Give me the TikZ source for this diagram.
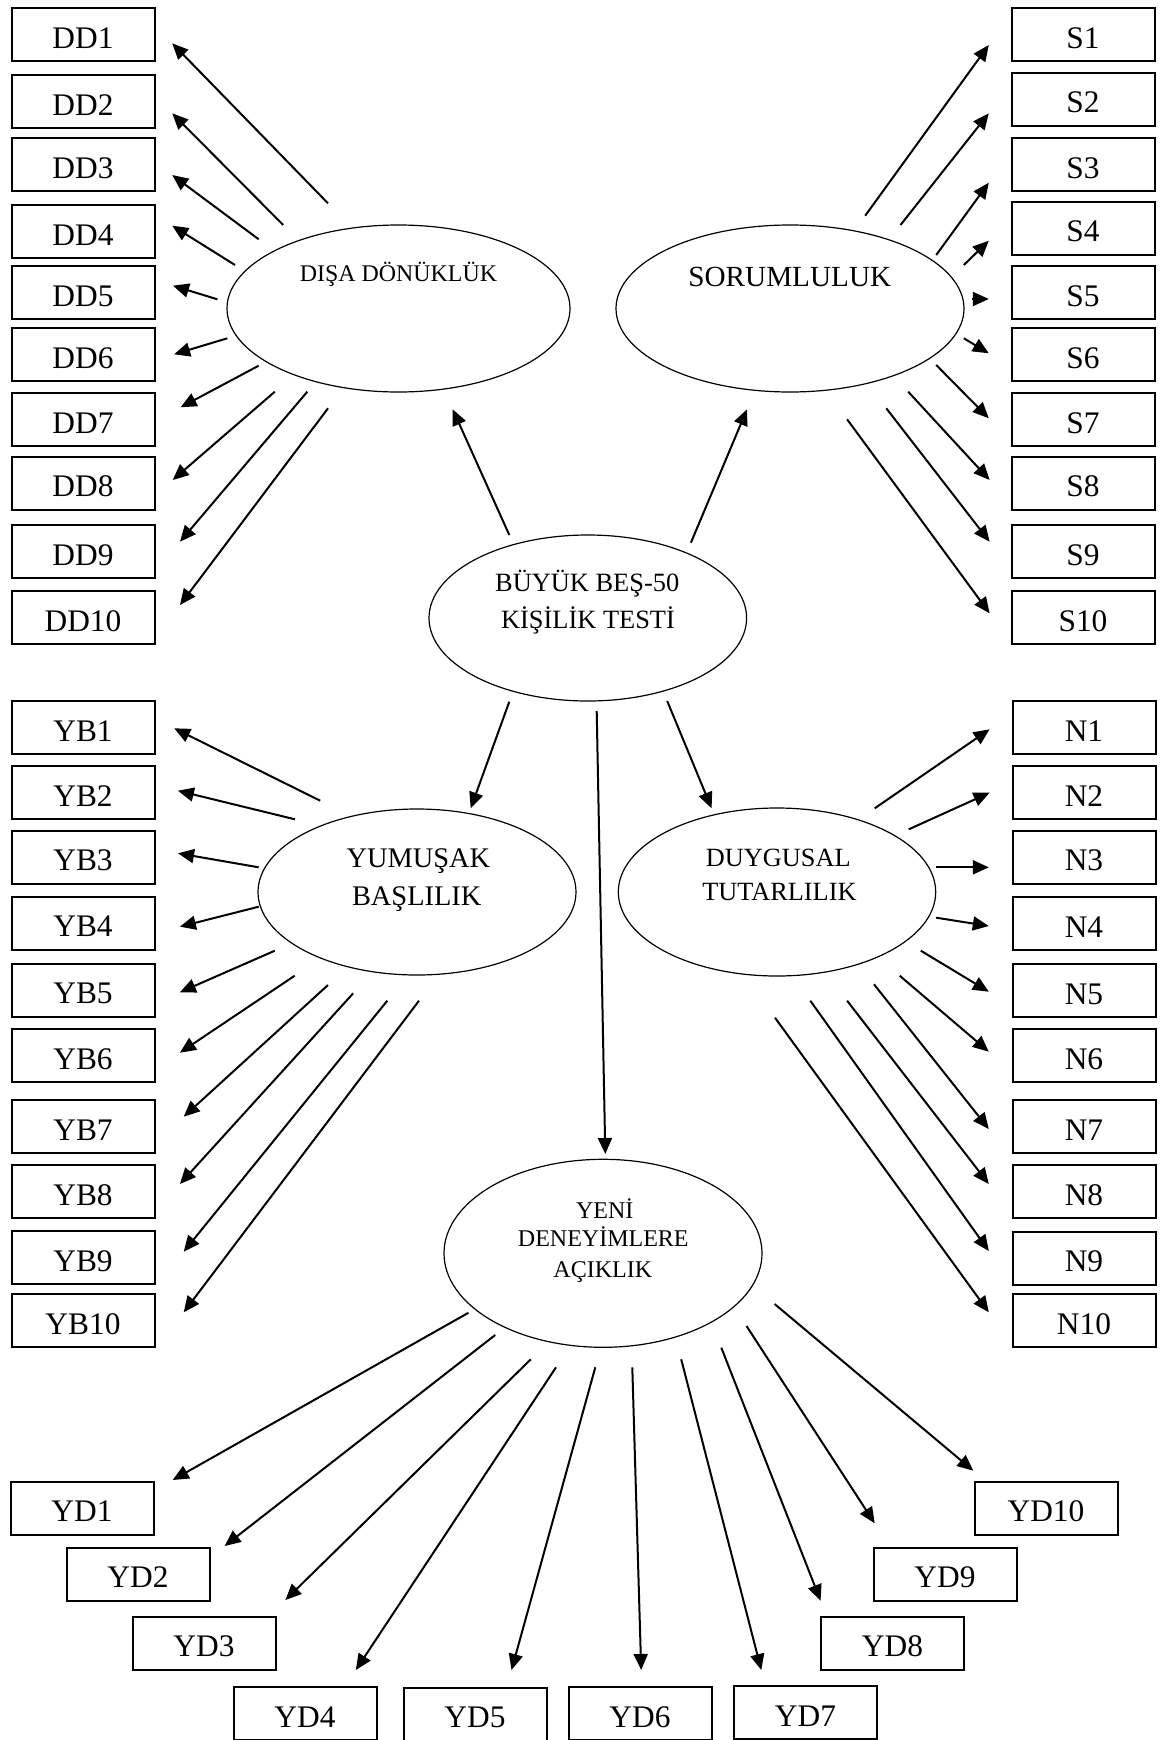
\documentclass[tikz,border=0pt]{standalone}
\usepackage{fontspec}
\setmainfont{Liberation Serif}
\usetikzlibrary{arrows.meta,shapes.geometric}
\begin{document}
\begin{tikzpicture}[x=0.5pt,y=-0.5pt,
  box/.style={draw, line width=1pt, minimum width=71.5pt, minimum height=26.5pt,
    inner sep=0pt, outer sep=0pt, font=\fontsize{15.7}{18}\selectfont,
    text height=13.8pt, text depth=0pt},
  latent/.style={draw, ellipse, line width=0.6pt, inner sep=0pt, outer sep=0pt},
  lbl/.style={anchor=base, inner sep=0pt},
  arr/.style={line width=1pt, -{Triangle[length=8pt,width=7pt]}}]
\useasboundingbox (0,0) rectangle (1162,1740);
\clip (0,0) rectangle (1162,1740);

% latent ellipses
\node[latent, minimum width=171.5pt, minimum height=83.5pt] (DDe) at (398.5,308.5) {};
\node[latent, minimum width=174pt, minimum height=83.5pt] (Se) at (790,308.5) {};
\node[latent, minimum width=158.8pt, minimum height=83pt] (Ce) at (587.8,618) {};
\node[latent, minimum width=159pt, minimum height=83pt] (YBe) at (417,892) {};
\node[latent, minimum width=158.7pt, minimum height=84pt] (Ne) at (777,892) {};
\node[latent, minimum width=159pt, minimum height=94pt] (YDe) at (603,1253.3) {};

% ellipse texts
\node[lbl, font=\fontsize{11.95}{14}\selectfont] (ddtx) at (398.5,281) {DIŞA DÖNÜKLÜK};
\node[lbl, font=\fontsize{14.6}{17}\selectfont] (sotx) at (789.8,286) {SORUMLULUK};
\node[lbl, font=\fontsize{13.2}{16}\selectfont] (ctx1) at (587.2,591.7) {BÜYÜK BEŞ-50};
\node[lbl, font=\fontsize{13.2}{16}\selectfont] (ctx2) at (588,628.3) {KİŞİLİK TESTİ};
\node[lbl, font=\fontsize{14.2}{17}\selectfont] (ybtx1) at (418.3,867.3) {YUMUŞAK};
\node[lbl, font=\fontsize{14.2}{17}\selectfont] (ybtx2) at (416.7,905) {BAŞLILIK};
\node[lbl, font=\fontsize{13.15}{16}\selectfont] (ntx1) at (778.3,866) {DUYGUSAL};
\node[lbl, font=\fontsize{13.15}{16}\selectfont] (ntx2) at (779.4,900) {TUTARLILIK};
\node[lbl, font=\fontsize{12}{14}\selectfont] (ydtx1) at (604.7,1218.3) {YENİ};
\node[lbl, font=\fontsize{12}{14}\selectfont] (ydtx2) at (603.3,1246.7) {DENEYİMLERE};
\node[lbl, font=\fontsize{12}{14}\selectfont] (ydtx3) at (602.8,1277) {AÇIKLIK};

% boxes
\foreach \i/\yy in {1/34.5,2/101.5,3/164.5,4/231.5,5/292.5,6/354.5,7/419.5,8/483,9/551.5,10/617.5}
  \node[box] (DD\i) at (83,\yy) {DD\i};
\foreach \i/\yy in {1/34.5,2/99,3/164.5,4/228,5/292.5,6/354.5,7/419.5,8/483,9/551.5,10/617.5}
  \node[box] (S\i) at (1083,\yy) {S\i};
\foreach \i/\yy in {1/727.5,2/792.5,3/857,4/923,5/990,6/1055.5,7/1126.5,8/1191.5,9/1257.5,10/1320.5}
  \node[box] (YB\i) at (83,\yy) {YB\i};
\foreach \i/\yy in {1/727.5,2/792.5,3/857,4/923.5,5/990.5,6/1055.5,7/1126.5,8/1191.5,9/1258,10/1320.5}
  \node[box] (N\i) at (1084,\yy) {N\i};
\foreach \i/\xx/\yy in {1/82/1508,2/138/1574,3/204/1643,4/305/1713.5,5/475/1714,6/640/1713.5,7/805.5/1712.5,8/892.5/1643,9/945/1574,10/1046/1508}
  \node[box] (YD\i) at (\xx,\yy) {YD\i};

% arrows: central
\foreach \n/\a/\b/\c/\d in {DD/509.3/535/452.7/409.3, S/690.9/542.7/747/409.3,
    YB/509.3/701.7/470.7/808.3, N/667.2/701/711.6/808.3, YD/596.7/711/605.3/1154}{
  \coordinate (ct\n) at (\a,\b); \coordinate (ch\n) at (\c,\d);
  \draw[arr] (ct\n) -- (ch\n);
}
% arrows: DD
\foreach \i/\a/\b/\c/\d in {1/328/203.3/172.2/43.3, 2/283.2/225/172.2/113.3,
    3/258.7/239.3/172.2/175, 4/235/265/172.2/225.7, 5/217.4/299.3/173/285.7,
    6/227.3/338.3/174.1/354.3, 7/258.7/365.7/180.6/407.3, 8/274.8/391.7/172.7/480,
    9/307.3/391.7/180/541.7, 10/328/408.3/180/605}{
  \coordinate (ddtail\i) at (\a,\b); \coordinate (ddhead\i) at (\c,\d);
  \draw[arr] (ddtail\i) -- (ddhead\i);
}
% arrows: S
\foreach \i/\a/\b/\c/\d in {1/865.2/215.7/988.8/45, 2/900.5/225/988.8/113.3,
    3/936.2/255/988.8/182.7, 4/963.8/265/988.8/240.7, 5/972/299/988.8/299,
    6/963.8/338.3/988.8/353.3, 7/936.2/365/988.8/418.3, 8/908.2/391.7/989.6/480,
    9/886.3/408.3/989.6/541.7, 10/847.1/419.3/989.6/613.3}{
  \coordinate (stail\i) at (\a,\b); \coordinate (shead\i) at (\c,\d);
  \draw[arr] (stail\i) -- (shead\i);
}
% arrows: YB
\foreach \i/\a/\b/\c/\d in {1/320.2/800.7/174.2/728.3, 2/295/819.3/177.9/790.7,
    3/258.7/867.3/178/853.3, 4/258.7/906.7/179.9/926.7, 5/274.8/950.7/179.9/992.3,
    6/294.7/975.7/179.9/1052.7, 7/328/985/183.7/1116.7, 8/353.2/993.3/179.9/1184,
    9/387.3/1000.7/183.7/1251.7, 10/419/1000.7/183.7/1312.3}{
  \coordinate (ybtail\i) at (\a,\b); \coordinate (ybhead\i) at (\c,\d);
  \draw[arr] (ybtail\i) -- (ybhead\i);
}
% arrows: N
\foreach \i/\a/\b/\c/\d in {1/874.7/808.3/989.6/729.3, 2/908.8/829.3/989.6/792.7,
    3/936.2/867.3/988.8/867.3, 4/936.2/917.7/988.8/926, 5/920.8/950.7/988.8/991.7,
    6/899.7/975.7/988.8/1051.7, 7/874/984.3/988.8/1129, 8/847.1/1000.7/988.8/1184,
    9/810.3/1000.7/988.8/1251, 10/775/1017.7/988.8/1312.3}{
  \coordinate (ntail\i) at (\a,\b); \coordinate (nhead\i) at (\c,\d);
  \draw[arr] (ntail\i) -- (nhead\i);
}
% arrows: YD
\foreach \i/\a/\b/\c/\d in {1/468.5/1312.7/172.7/1480, 2/495.2/1335/224.6/1546,
    3/530.8/1359.3/285.4/1600, 4/556/1367.3/355.8/1670, 5/595.3/1367.3/511.5/1670,
    6/632.3/1367.3/641.2/1670, 7/681.2/1359.3/761.3/1670, 8/721.3/1347.7/820.6/1600.7,
    9/746.5/1326/874.7/1523.3, 10/774.6/1304/973.3/1470.7}{
  \coordinate (ydtail\i) at (\a,\b); \coordinate (ydhead\i) at (\c,\d);
  \draw[arr] (ydtail\i) -- (ydhead\i);
}
\end{tikzpicture}
\end{document}
